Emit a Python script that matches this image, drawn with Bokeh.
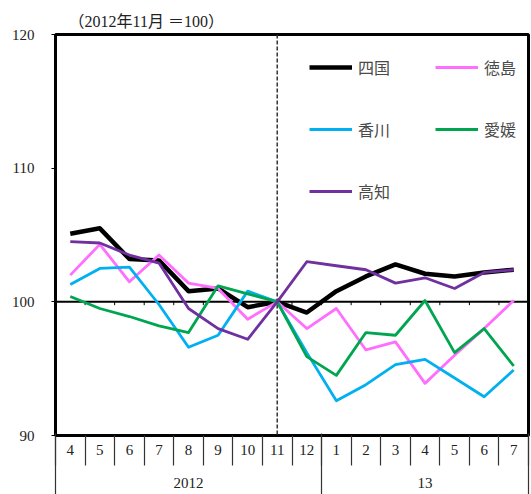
from bokeh.plotting import figure
from bokeh.models import Range1d, LinearAxis, FixedTicker, Span, Legend, LegendItem
from bokeh.embed import file_html
from bokeh.resources import INLINE

# ---- data ----
months = ["4", "5", "6", "7", "8", "9", "10", "11", "12", "1", "2", "3", "4", "5", "6", "7"]
years = ["2012", "13"]
year_counts = [9, 7]
y_ticks = [90, 100, 110, 120]

shikoku = [105.1, 105.5, 103.2, 103.1, 100.8, 101.0, 99.6, 100.0, 99.2, 100.8, 101.9, 102.8, 102.1, 101.9, 102.2, 102.4]
tokushima = [102.0, 104.3, 101.5, 103.5, 101.4, 101.0, 98.7, 100.0, 98.0, 99.5, 96.4, 97.0, 93.9, 96.0, 98.0, 100.1]
kagawa = [101.3, 102.5, 102.6, 99.8, 96.6, 97.5, 100.8, 100.0, 96.2, 92.6, 93.8, 95.3, 95.7, 94.3, 92.9, 94.9]
ehime = [100.4, 99.5, 98.9, 98.2, 97.7, 101.2, 100.6, 100.0, 95.9, 94.5, 97.7, 97.5, 100.1, 96.2, 98.0, 95.2]
kochi = [104.5, 104.4, 103.5, 102.9, 99.5, 98.0, 97.2, 100.0, 103.0, 102.7, 102.4, 101.4, 101.8, 101.0, 102.2, 102.4]

series = [
    ("四国", shikoku, "#000000", 4.5),
    ("徳島", tokushima, "#FF6EFF", 2.8),
    ("香川", kagawa, "#00B0F0", 2.8),
    ("愛媛", ehime, "#00A550", 2.8),
    ("高知", kochi, "#7030A0", 2.8),
]
base_month_index = 7  # 2012年11月
title_text = "（2012年11月 ＝100）"

SERIF_NAME = "Liberation Serif, Noto Sans CJK JP"

n = len(months)
xs = [i + 0.5 for i in range(n)]

p = figure(width=531, height=494, x_range=Range1d(0, n), y_range=Range1d(90, 120),
           output_backend="svg", toolbar_location=None,
           x_axis_location=None, y_axis_location=None,
           min_border_left=55, min_border_right=3, min_border_top=34, min_border_bottom=59,
           title=title_text)
p.xgrid.visible = False
p.ygrid.visible = False
p.outline_line_color = "black"
p.outline_line_width = 3
p.background_fill_color = "white"
p.border_fill_color = "white"

p.title.text_font = SERIF_NAME
p.title.text_font_style = "normal"
p.title.text_font_size = "16px"
p.title.text_color = "#222222"
p.title.align = "left"
p.title.offset = 13
p.title.standoff = 10

# y axis
yax = LinearAxis(ticker=FixedTicker(ticks=y_ticks, minor_ticks=[]),
                 axis_line_color=None, major_tick_in=0, major_tick_out=4,
                 major_tick_line_color="black", minor_tick_line_color=None,
                 major_label_standoff=17, major_label_text_font=SERIF_NAME,
                 major_label_text_font_size="15px", major_label_text_color="#222222")
p.add_layout(yax, "left")

# month axis (separators drawn as minor ticks)
xA = LinearAxis(ticker=FixedTicker(ticks=xs, minor_ticks=list(range(n + 1))),
                major_label_overrides={x: m for x, m in zip(xs, months)},
                axis_line_color=None, major_tick_line_color=None,
                major_tick_in=0, major_tick_out=0,
                minor_tick_in=0, minor_tick_out=30, minor_tick_line_color="#333333",
                minor_tick_line_width=1.2,
                major_label_standoff=-21, major_label_text_font=SERIF_NAME,
                major_label_text_font_size="15px", major_label_text_color="#222222")
p.add_layout(xA, "below")

# year axis
bounds = [0]
for c in year_counts:
    bounds.append(bounds[-1] + c)
ycenters = [(bounds[i] + bounds[i + 1]) / 2 for i in range(len(years))]
xB = LinearAxis(ticker=FixedTicker(ticks=ycenters, minor_ticks=bounds),
                major_label_overrides={x: y for x, y in zip(ycenters, years)},
                axis_line_color=None, major_tick_line_color=None,
                major_tick_in=0, major_tick_out=0,
                minor_tick_in=24, minor_tick_out=40, minor_tick_line_color="#333333",
                minor_tick_line_width=1.2,
                major_label_standoff=-20, major_label_text_font=SERIF_NAME,
                major_label_text_font_size="15px", major_label_text_color="#222222")
p.add_layout(xB, "below")

# baseline 100 and base month dashed line
p.add_layout(Span(location=100, dimension="width", line_color="black", line_width=2, level="underlay"))
p.add_layout(Span(location=xs[base_month_index], dimension="height", line_color="#333333",
                  line_width=1.5, line_dash="4 2", level="underlay"))
sep = list(range(1, n))
p.segment(x0=sep, y0=[100] * len(sep), x1=sep, y1=[99.75] * len(sep), line_color="black", line_width=1)

items = []
for name, vals, color, w in series:
    r = p.line(xs, vals, line_color=color, line_width=w, line_join="round")
    items.append(LegendItem(label=name, renderers=[r]))

legend = Legend(items=items, location=(254, 232), orientation="horizontal", ncols=2,
                spacing=38, padding=0, margin=0, border_line_color=None, background_fill_alpha=0,
                label_text_font="Noto Sans CJK JP", label_text_font_size="16px", label_text_color="#4a4a4a",
                glyph_width=43, label_standoff=6, label_width=39)
p.add_layout(legend)

open("out.html", "w").write(file_html(p, INLINE))
